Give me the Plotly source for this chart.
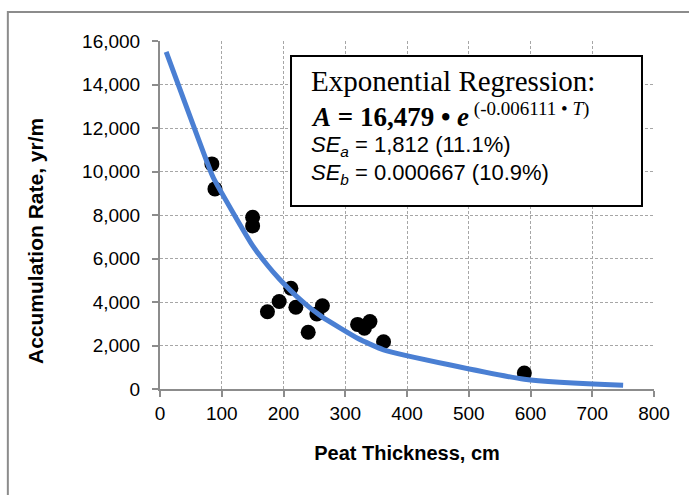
import numpy as np
import plotly.graph_objects as go

# Measured peat cores: thickness (cm) and accumulation rate (yr/m)
thickness_cm = [84, 89, 150, 150, 174, 193, 212, 220, 240, 254, 263, 320, 331, 340, 362, 590]
accum_rate = [10350, 9200, 7900, 7500, 3550, 4020, 4630, 3760, 2610, 3450, 3830, 2970, 2790, 3100, 2170, 730]

# Exponential regression coefficients A = a * exp(b * T)
coef_a = 16479
coef_b = -0.006111

# Thickness values at which the fitted curve is evaluated
fit_x = [10, 84, 89, 150, 174, 193, 212, 220, 240, 254, 263, 320, 331, 340, 362, 590, 750]
fit_y = [coef_a * np.exp(coef_b * t) for t in fit_x]

x_ticks = [0, 100, 200, 300, 400, 500, 600, 700, 800]
y_ticks = [0, 2000, 4000, 6000, 8000, 10000, 12000, 14000, 16000]

SANS = "Liberation Sans, Arial, sans-serif"
SERIF = "Liberation Serif, Cambria, serif"

fig = go.Figure()
fig.add_trace(go.Scatter(
    x=thickness_cm, y=accum_rate, mode="markers",
    marker=dict(size=15, color="black"), showlegend=False,
))
fig.add_trace(go.Scatter(
    x=fit_x, y=fit_y, mode="lines",
    line=dict(color="#4A7FD3", width=5, shape="spline", smoothing=0.6),
    showlegend=False,
))

axis_common = dict(
    showgrid=True, gridcolor="#A6A6A6", griddash="3px,2px", gridwidth=1,
    showline=True, linecolor="#8C8C8C", linewidth=2,
    ticks="outside", ticklen=6, tickcolor="#8C8C8C", tickwidth=2,
    zeroline=False, mirror=False,
    tickfont=dict(family=SANS, size=19, color="black"),
)

fig.update_xaxes(
    range=[0, 800], tickvals=x_ticks, ticktext=[str(v) for v in x_ticks],
    title=dict(text="<b>Peat Thickness, cm</b>", font=dict(family=SANS, size=20, color="black"), standoff=23),
    **axis_common,
)
fig.update_yaxes(
    range=[0, 16000], tickvals=y_ticks, ticktext=[f"{v:,}" for v in y_ticks],
    ticklabelstandoff=8,
    **axis_common,
)

# Vertical axis title, placed as a rotated annotation
fig.add_annotation(
    xref="paper", yref="paper", x=(35 - 160) / 494, y=(389 - 241) / 348,
    xanchor="center", yanchor="middle", textangle=-90, showarrow=False,
    text="<b>Accumulation Rate, yr/m</b>", font=dict(family=SANS, size=21, color="black"),
)

# Outer chart border and the regression text box
fig.add_shape(type="rect", xref="paper", yref="paper",
              x0=-0.308, x1=1.2, y0=-0.5, y1=1.083,
              line=dict(color="#8C8C8C", width=2), fillcolor="rgba(0,0,0,0)", layer="below")
fig.add_shape(type="rect", xref="paper", yref="paper",
              x0=0.2652, x1=0.9757, y0=0.5259, y1=0.9569,
              line=dict(color="black", width=2), fillcolor="white", layer="above")

def line_text(txt, ypx, fam, size):
    fig.add_annotation(
        xref="paper", yref="paper", x=(309 - 160) / 494, y=(389 - ypx) / 348,
        xanchor="left", yanchor="middle", showarrow=False, align="left",
        text=txt, font=dict(family=fam, size=size, color="black"),
    )

line_text("Exponential Regression:", 81, SERIF, 29)
line_text("<b><i>A</i> = 16,479 • <i>e</i></b>"
          "<sup><span style='font-size:19px'> (-0.006111 • <i>T</i>)</span></sup>", 115, SERIF, 27)
line_text("<i>SE<sub>a</sub></i> = 1,812 (11.1%)", 146, SANS, 22)
line_text("<i>SE<sub>b</sub></i> = 0.000667 (10.9%)", 174, SANS, 22)

fig.update_layout(
    width=689, height=495,
    margin=dict(l=160, r=35, t=41, b=106),
    paper_bgcolor="white", plot_bgcolor="white",
)

fig.write_html("out.html")
